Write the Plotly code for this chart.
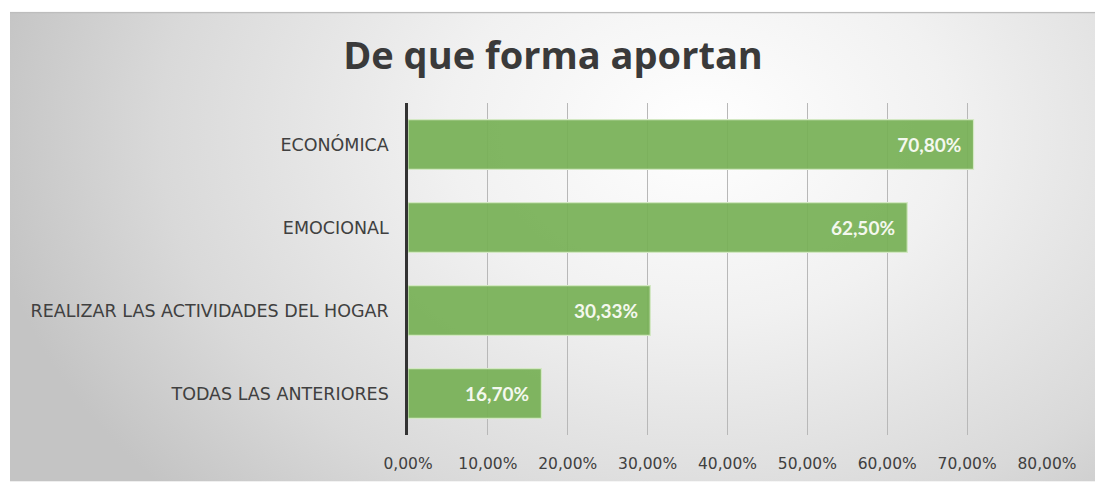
import base64
import plotly.graph_objects as go

categories = ["ECONÓMICA", "EMOCIONAL", "REALIZAR LAS ACTIVIDADES DEL HOGAR", "TODAS LAS ANTERIORES"]
values = [0.708, 0.625, 0.3033, 0.167]
tick_vals = [0, 0.1, 0.2, 0.3, 0.4, 0.5, 0.6, 0.7, 0.8]

svg = """<svg xmlns='http://www.w3.org/2000/svg' width='1085' height='474' viewBox='0 0 1085 474' preserveAspectRatio='none'>
<defs>
<radialGradient id='g' gradientUnits='userSpaceOnUse' cx='690' cy='120' r='720' gradientTransform='translate(690 120) scale(1 0.75) translate(-690 -120)'>
<stop offset='0' stop-color='#ffffff'/>
<stop offset='0.35' stop-color='#f1f1f1'/>
<stop offset='0.75' stop-color='#d9d9d9'/>
<stop offset='1' stop-color='#c4c4c4'/>
</radialGradient>
</defs>
<rect x='0' y='0' width='1085' height='474' fill='url(#g)'/>
<line x1='0' y1='0.75' x2='1085' y2='0.75' stroke='#bdbdbd' stroke-width='1.5'/>
</svg>"""
src = "data:image/svg+xml;base64," + base64.b64encode(svg.encode("utf-8")).decode("ascii")

L, R, T, B = 408, 48, 103, 47
W, H = 1095, 485
pw = W - L - R
ph = H - T - B

fig = go.Figure()
fig.add_trace(go.Bar(
    y=categories,
    x=values,
    orientation="h",
    width=0.6,
    marker=dict(color="rgba(118,176,85,0.92)", line=dict(color="#d3e8c3", width=1.2)),
    texttemplate="%{x:.2%}\u00a0\u00a0",
    textposition="inside",
    insidetextanchor="end",
    textfont=dict(family="Lato, Open Sans, sans-serif", size=19, color="#f4f8ee", weight="bold"),
    hoverinfo="skip",
))

fig.update_layout(
    width=W, height=H,
    margin=dict(l=L, r=R, t=T, b=B, pad=0),
    paper_bgcolor="white",
    plot_bgcolor="rgba(0,0,0,0)",
    separators=",.",
    showlegend=False,
    title=dict(
        text="De que forma aportan",
        x=553 / W, xanchor="center",
        y=1 - 56 / H, yanchor="middle",
        font=dict(family="Open Sans, Lato, sans-serif", size=38, color="#3a3a3a", weight="bold"),
    ),
    images=[dict(
        source=src,
        xref="paper", yref="paper",
        x=(10 - L) / pw, y=(H - B - 11) / ph,
        sizex=1085 / pw, sizey=474 / ph,
        xanchor="left", yanchor="top",
        sizing="stretch", layer="below",
    )],
    xaxis=dict(
        range=[0, 0.8],
        tickvals=tick_vals,
        tickformat=".2%",
        showgrid=True, gridcolor="#b8b8b8", gridwidth=1,
        zeroline=False, showline=False, ticks="",
        ticklabelstandoff=17,
        tickfont=dict(family="DejaVu Sans, sans-serif", size=15.5, color="#404040"),
        fixedrange=True,
    ),
    yaxis=dict(
        categoryorder="array", categoryarray=categories,
        autorange="reversed",
        showline=True, linecolor="#333333", linewidth=2.5,
        showgrid=False, ticks="", ticklabelstandoff=13,
        tickfont=dict(family="DejaVu Sans, sans-serif", size=17.5, color="#404040"),
        fixedrange=True,
    ),
)

fig.write_html("out.html", config={"displayModeBar": False},
               post_script="document.body.style.margin='0';")
